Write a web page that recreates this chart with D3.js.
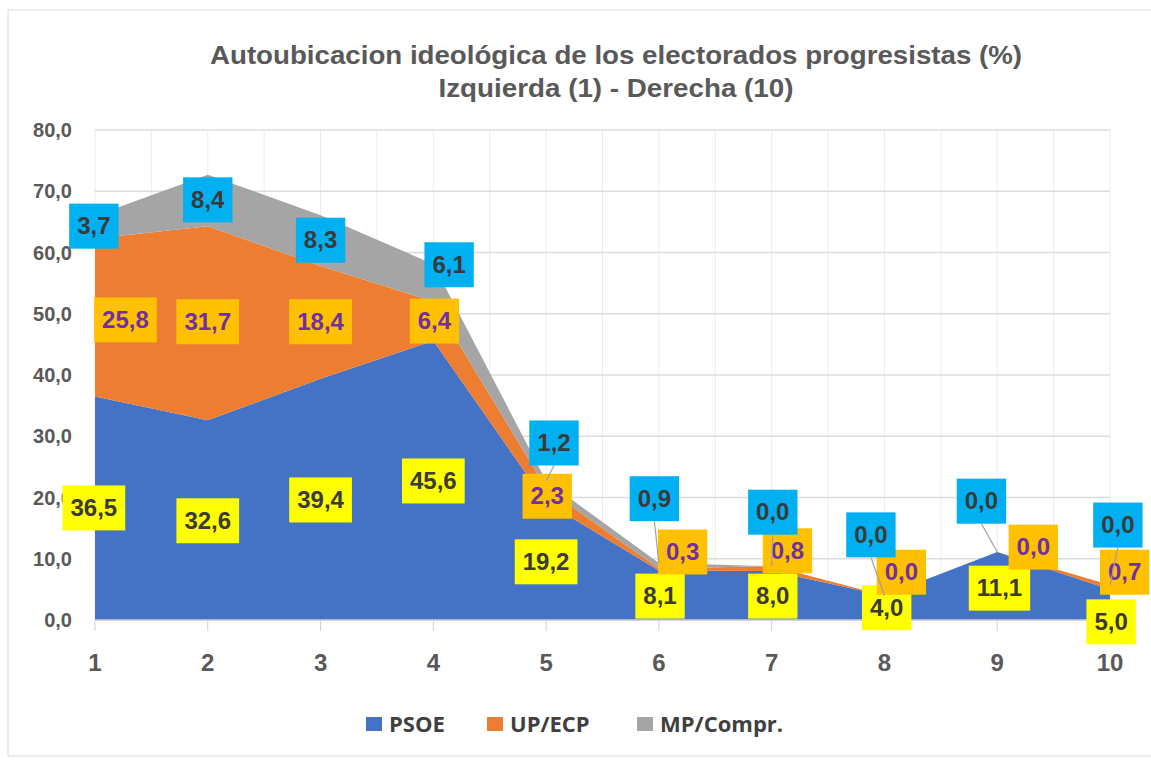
<!DOCTYPE html>
<html>
<head>
<meta charset="utf-8">
<script src="https://cdn.jsdelivr.net/npm/d3@7"></script>
<style>
  body { margin: 0; background: #fff; }
  text { font-family: "Liberation Sans", Arial, sans-serif; }
</style>
</head>
<body>
<svg id="chart" width="1151" height="761"></svg>
<script>
// datos
const categories = [1, 2, 3, 4, 5, 6, 7, 8, 9, 10];
const psoe    = [36.5, 32.6, 39.4, 45.6, 19.2, 8.1, 8.0, 4.0, 11.1, 5.0];
const upEcp   = [25.8, 31.7, 18.4, 6.4, 2.3, 0.3, 0.8, 0.0, 0.0, 0.7];
const mpCompr = [3.7, 8.4, 8.3, 6.1, 1.2, 0.9, 0.0, 0.0, 0.0, 0.0];
const seriesNames = ["PSOE", "UP/ECP", "MP/Compr."];
const yTicks = [0, 10, 20, 30, 40, 50, 60, 70, 80];

// where each data label sits, in chart units [category, value]
const psoeLabelAt = [[0.99, 18.3], [2, 16.2], [3, 19.6], [4, 22.7], [5, 9.5], [6.01, 3.9], [7.01, 3.9], [8.02, 2.0], [9.02, 5.2], [10.01, -0.3]];
const upLabelAt   = [[1.27, 49.0], [2, 48.7], [3, 48.7], [4.01, 48.8], [5.01, 20.2], [6.21, 11.1], [7.14, 11.3], [8.15, 7.8], [9.32, 11.9], [10.13, 7.8]];
const mpLabelAt   = [[0.99, 64.3], [2, 68.6], [3, 62.0], [4.14, 58.0], [5.07, 28.9], [5.96, 19.8], [7.01, 17.6], [7.88, 13.9], [8.86, 19.4], [10.07, 15.5]];

const colors = ["#4472C4", "#ED7D31", "#A5A5A5"];
const boxFill = ["#FFFF00", "#FFC000", "#00B0F0"];
const boxText = ["#3a3a3a", "#7030A0", "#3a3a3a"];

const svg = d3.select("#chart");

// marco exterior
svg.append("rect")
    .attr("x", 8).attr("y", 10)
    .attr("width", 1170).attr("height", 746)
    .attr("fill", "#fff")
    .attr("stroke", "#d9d9d9");

const x = d3.scaleLinear().domain([1, 10]).range([95, 1110]);
const y = d3.scaleLinear().domain([0, 80]).range([620, 130]);

// titulo
const title = svg.append("g").attr("fill", "#595959").attr("font-weight", "bold").attr("text-anchor", "middle");
title.append("text")
    .attr("x", 616).attr("y", 64)
    .attr("font-size", 25)
    .attr("textLength", 812).attr("lengthAdjust", "spacingAndGlyphs")
    .text("Autoubicacion ideológica de los electorados progresistas (%)");
title.append("text")
    .attr("x", 616).attr("y", 97)
    .attr("font-size", 25)
    .attr("textLength", 355).attr("lengthAdjust", "spacingAndGlyphs")
    .text("Izquierda (1) - Derecha (10)");

// rejilla
const grid = svg.append("g");
grid.selectAll("line.v")
    .data(d3.range(1, 10.01, 0.5))
    .enter().append("line")
    .attr("x1", d => x(d)).attr("x2", d => x(d))
    .attr("y1", y(80)).attr("y2", y(0))
    .attr("stroke", "#ececec");
grid.selectAll("line.h")
    .data(yTicks)
    .enter().append("line")
    .attr("x1", x(1)).attr("x2", x(10))
    .attr("y1", d => y(d)).attr("y2", d => y(d))
    .attr("stroke", "#dcdcdc").attr("stroke-width", 1.5);

// areas apiladas
const rows = categories.map((c, i) => ({ cat: c, "PSOE": psoe[i], "UP/ECP": upEcp[i], "MP/Compr.": mpCompr[i] }));
const stacked = d3.stack().keys(seriesNames)(rows);

const area = d3.area()
    .x(d => x(d.data.cat))
    .y0(d => y(d[0]))
    .y1(d => y(d[1]));

svg.append("g").selectAll("path")
    .data(stacked)
    .enter().append("path")
    .attr("d", area)
    .attr("fill", (d, i) => colors[i]);

// eje x
svg.append("line")
    .attr("x1", x(1)).attr("x2", x(10))
    .attr("y1", y(0)).attr("y2", y(0))
    .attr("stroke", "#d0d0d0").attr("stroke-width", 1.5);
svg.append("g").selectAll("line")
    .data(categories)
    .enter().append("line")
    .attr("x1", d => x(d)).attr("x2", d => x(d))
    .attr("y1", y(0)).attr("y2", y(0) + 11)
    .attr("stroke", "#d0d0d0");
svg.append("g").selectAll("text")
    .data(categories)
    .enter().append("text")
    .attr("x", d => x(d)).attr("y", 671)
    .attr("text-anchor", "middle")
    .attr("font-size", 24).attr("font-weight", "bold")
    .attr("fill", "#595959")
    .text(d => d);

// eje y
const fmt = v => d3.format(".1f")(v).replace(".", ",");
svg.append("g").selectAll("text")
    .data(yTicks)
    .enter().append("text")
    .attr("x", 72).attr("y", d => y(d) + 7)
    .attr("text-anchor", "end")
    .attr("font-size", 20).attr("font-weight", "bold")
    .attr("fill", "#595959")
    .text(fmt);

// etiquetas de datos
const values = [psoe, upEcp, mpCompr];
const labelAt = [psoeLabelAt, upLabelAt, mpLabelAt];
const boxH = 45;
const leaders = [];

values.forEach((vals, s) => {
    const g = svg.append("g");
    vals.forEach((v, i) => {
        const cx = x(labelAt[s][i][0]);
        const cy = y(labelAt[s][i][1]);
        const t = g.append("text")
            .attr("x", cx).attr("y", cy + 8)
            .attr("text-anchor", "middle")
            .attr("font-size", 24).attr("font-weight", "bold")
            .attr("fill", boxText[s])
            .text(fmt(v));
        const w = t.node().getComputedTextLength() + 16;
        g.insert("rect", () => t.node())
            .attr("x", cx - w / 2).attr("y", cy - boxH / 2)
            .attr("width", w).attr("height", boxH)
            .attr("fill", boxFill[s]);
        // linea guia (solo la serie de arriba) si la etiqueta queda lejos del punto
        if (s !== 2) return;
        const px = x(categories[i]);
        const py = y(stacked[s][i][1]);
        const bx0 = cx - w / 2, bx1 = cx + w / 2, by0 = cy - boxH / 2, by1 = cy + boxH / 2;
        const dx = Math.max(bx0 - px, 0, px - bx1);
        const dy = Math.max(by0 - py, 0, py - by1);
        if (Math.hypot(dx, dy) > 14) {
            let sx = cx, sy = cy;
            if (py > by1) sy = by1; else if (py < by0) sy = by0;
            else sx = px > bx1 ? bx1 : bx0;
            leaders.push({ sx, sy, px, py });
        }
    });
});

svg.append("g").selectAll("line")
    .data(leaders)
    .enter().append("line")
    .attr("x1", d => d.sx).attr("y1", d => d.sy)
    .attr("x2", d => d.px).attr("y2", d => d.py)
    .attr("stroke", "#a0a0a0").attr("stroke-width", 1.2);

// leyenda
const legendX = [366, 487, 637];
const legend = svg.append("g").selectAll("g")
    .data(seriesNames)
    .enter().append("g")
    .attr("transform", (d, i) => `translate(${legendX[i]},717)`);
legend.append("rect")
    .attr("width", 16).attr("height", 14)
    .attr("fill", (d, i) => colors[i]);
legend.append("text")
    .attr("x", 23).attr("y", 15)
    .style("font-family", "'Open Sans', sans-serif")
    .attr("font-size", 22).attr("font-weight", "bold")
    .attr("fill", "#404040")
    .text(d => d);
</script>
</body>
</html>
